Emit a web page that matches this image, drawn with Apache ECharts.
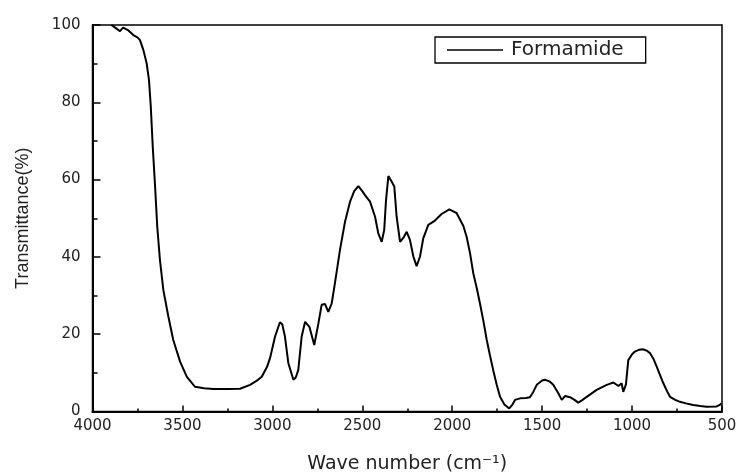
<!DOCTYPE html>
<html>
<head>
<meta charset="utf-8">
<script src="https://cdn.jsdelivr.net/npm/echarts@6/dist/echarts.min.js"></script>
<style>html,body{margin:0;padding:0;background:#fff}#c{width:737px;height:475px}</style>
</head>
<body>
<div id="c"></div>
<script>
const seriesName = 'Formamide';
const waveNumbers = [3895,3870,3847,3830,3819,3800,3773,3750,3736,3717,3699,3686,3676,3665,3652,3640,3625,3606,3578,3551,3513,3476,3430,3380,3328,3250,3180,3124,3080,3059,3030,3013,2985,2958,2945,2930,2911,2883,2870,2856,2837,2818,2794,2767,2744,2726,2707,2689,2670,2652,2624,2596,2568,2545,2522,2500,2485,2457,2429,2411,2392,2378,2368,2355,2337,2322,2309,2290,2272,2253,2235,2216,2198,2179,2161,2133,2096,2059,2016,1975,1938,1920,1901,1883,1864,1846,1827,1808,1790,1772,1753,1734,1710,1683,1665,1651,1623,1590,1568,1550,1530,1500,1484,1460,1438,1420,1410,1391,1373,1345,1320,1299,1275,1252,1197,1141,1104,1076,1058,1049,1034,1021,1000,984,960,941,920,900,880,863,845,826,805,789,760,734,700,660,620,586,530,510,503];
const transmittance = [100,99.2,98.4,99.3,99.8,98.6,97.4,96.8,96.1,93.5,90.1,85.8,78.9,68.5,58.2,47.8,39.2,31.4,24.5,18.5,12.9,9.0,6.4,6.0,5.8,5.8,5.9,6.9,8.2,9.0,11.5,13.8,19.4,23.1,22.6,19.4,12.5,8.2,8.8,10.7,19.4,23.2,21.9,17.2,22.8,27.6,27.8,25.8,28.0,33.2,41.8,49.1,54.3,57.0,58.3,57.0,56.0,54.3,50.4,46.1,43.9,47.0,54.7,60.9,59.5,58.2,50.4,43.9,44.9,46.5,44.4,40.1,37.6,40.1,44.8,48.3,49.4,51.1,52.3,51.3,48.0,45.2,41.0,35.8,32.0,28.0,23.5,18.5,14.5,10.7,7.0,3.8,1.8,0.8,1.8,3.0,3.4,3.5,3.7,5.0,6.9,8.0,8.2,7.8,6.9,5.5,4.7,3.0,4.0,3.7,3.0,2.3,3.0,3.8,5.6,6.9,7.5,6.6,7.3,5.1,7.0,13.3,14.8,15.5,16.0,16.1,15.8,15.1,13.5,11.6,9.5,7.3,5.2,3.8,3.0,2.5,2.1,1.7,1.4,1.2,1.3,1.8,2.1];
const xTicks = {min: 500, max: 4000, interval: 500};
const yTicks = {min: 0, max: 100, interval: 20};

const data = waveNumbers.map((w, i) => [w, transmittance[i]]);
const chart = echarts.init(document.getElementById('c'), null, {renderer: 'canvas'});
const tickFont = {fontFamily: 'DejaVu Sans', fontSize: 15, color: '#222', formatter: v => String(v)};
chart.setOption({
  animation: false,
  backgroundColor: '#fff',
  grid: {left: 92.5, right: 15, top: 25, bottom: 63.5, outerBoundsMode: 'none', containLabel: false, show: true, borderColor: '#000', borderWidth: 1.5, backgroundColor: 'transparent'},
  legend: {
    left: 435, top: 37,
    data: [seriesName],
    icon: 'rect', itemWidth: 56, itemHeight: 1.6,
    itemStyle: {color: '#000'},
    borderColor: '#000', borderWidth: 1.3, borderRadius: 0,
    padding: [3, 22, 3, 12],
    backgroundColor: '#fff',
    textStyle: {fontFamily: 'DejaVu Sans', fontSize: 20, color: '#222', lineHeight: 20, padding: [0, 0, 0, 3]}
  },
  xAxis: {
    type: 'value', inverse: true,
    min: xTicks.min, max: xTicks.max, interval: xTicks.interval,
    name: 'Wave number (cm\u207B\u00B9)', nameLocation: 'middle', nameGap: 43,
    nameTextStyle: {fontFamily: 'DejaVu Sans', fontSize: 19, color: '#222'},
    axisLine: {show: true, lineStyle: {color: '#000', width: 2}},
    axisTick: {show: true, inside: true, length: 6, lineStyle: {color: '#000', width: 1.5}},
    minorTick: {show: true, splitNumber: 2, length: 3, lineStyle: {color: '#000', width: 1.5}},
    axisLabel: Object.assign({margin: 7, showMinLabel: true, showMaxLabel: true}, tickFont),
    splitLine: {show: false}
  },
  yAxis: {
    type: 'value',
    min: yTicks.min, max: yTicks.max, interval: yTicks.interval,
    name: 'Transmittance(%)', nameLocation: 'middle', nameGap: 60,
    nameTextStyle: {fontFamily: 'Liberation Sans', fontSize: 18, color: '#222'},
    axisLine: {show: true, lineStyle: {color: '#000', width: 2}},
    axisTick: {show: true, inside: true, length: 8, lineStyle: {color: '#000', width: 1.5}},
    minorTick: {show: true, splitNumber: 2, length: 5, lineStyle: {color: '#000', width: 1.5}},
    axisLabel: Object.assign({margin: 12}, tickFont),
    splitLine: {show: false}
  },
  series: [{
    name: seriesName, type: 'line', data: data,
    showSymbol: false, symbol: 'none', smooth: false, clip: true,
    lineStyle: {color: '#000', width: 2},
    itemStyle: {color: '#000'}
  }]
});
</script>
</body>
</html>
